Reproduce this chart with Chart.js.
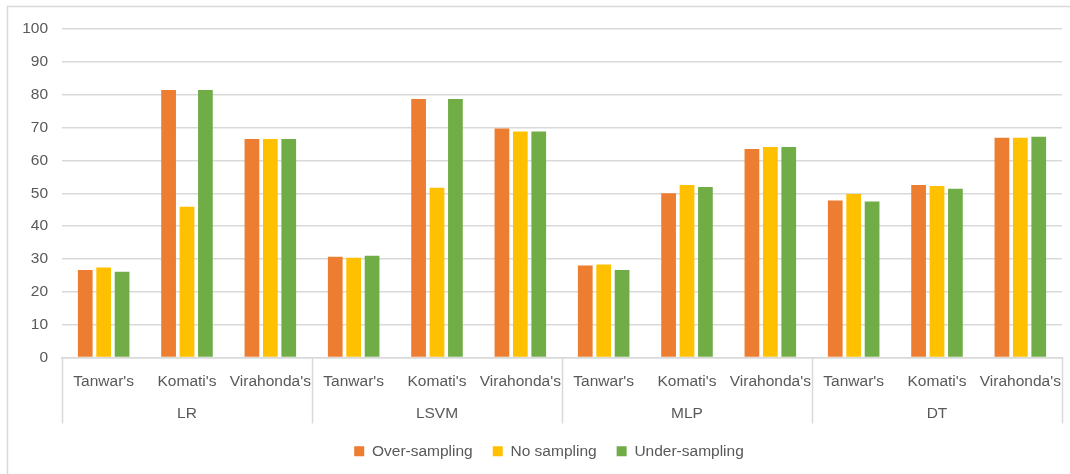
<!DOCTYPE html>
<html>
<head>
<meta charset="utf-8">
<script src="https://cdn.jsdelivr.net/npm/chart.js@4/dist/chart.umd.min.js"></script>
<style>
  html, body { margin: 0; padding: 0; background: #ffffff; }
  #wrap { position: relative; width: 1070px; height: 474px; }
</style>
</head>
<body>
<div id="wrap"><canvas id="chart" width="1070" height="474"></canvas></div>
<script>
// Datasets by feature-extraction method, grouped under each classifier
const methods = ["Tanwar's", "Komati's", "Virahonda's"];
const classifiers = ["LR", "LSVM", "MLP", "DT"];
const categories = classifiers.flatMap(() => methods);

const overSampling  = [26.6, 81.4, 66.5, 30.7, 78.7, 69.7, 28.0, 50.0, 63.5, 47.8, 52.5, 66.9];
const noSampling    = [27.4, 45.9, 66.5, 30.4, 51.7, 68.8, 28.3, 52.5, 64.1, 49.8, 52.2, 66.9];
const underSampling = [26.1, 81.4, 66.5, 31.0, 78.7, 68.8, 26.6, 51.9, 64.1, 47.5, 51.4, 67.2];

const yTicks = [0, 10, 20, 30, 40, 50, 60, 70, 80, 90, 100];

const FONT = "'Liberation Sans', Arial, sans-serif";
const FONT_SIZE = 15.5;
const TEXT = '#595959';
const LINE = '#d9d9d9';

// Frame around the whole chart
const framePlugin = {
  id: 'frame',
  beforeDraw(chart) {
    const ctx = chart.ctx;
    ctx.save();
    ctx.strokeStyle = LINE;
    ctx.lineWidth = 1.5;
    ctx.beginPath();
    ctx.moveTo(7.5, 480);
    ctx.lineTo(7.5, 6.5);
    ctx.lineTo(1080, 6.5);
    ctx.stroke();
    ctx.restore();
  }
};

// Centre the legend on the frame rather than on the canvas
const legendShiftPlugin = {
  id: 'legendShift',
  afterLayout(chart) {
    if (chart.legend) {
      chart.legend.left += 14;
      chart.legend.right += 14;
    }
  }
};

// Second level of the category axis: classifier names with separators
const groupAxisPlugin = {
  id: 'groupAxis',
  afterDraw(chart) {
    const x = chart.scales.x;
    const area = chart.chartArea;
    const ctx = chart.ctx;
    const n = methods.length;
    const step = (area.right - area.left) / categories.length;
    const bottom = area.bottom + 66;
    ctx.save();
    ctx.strokeStyle = LINE;
    ctx.lineWidth = 1.5;
    ctx.beginPath();
    for (let g = 0; g <= classifiers.length; g++) {
      const px = Math.round(area.left + g * n * step) + 0.5;
      ctx.moveTo(px, area.bottom);
      ctx.lineTo(px, bottom);
    }
    ctx.stroke();
    ctx.fillStyle = TEXT;
    ctx.font = FONT_SIZE + 'px ' + FONT;
    ctx.textAlign = 'center';
    ctx.textBaseline = 'middle';
    classifiers.forEach((name, g) => {
      const first = x.getPixelForValue(g * n);
      const last = x.getPixelForValue(g * n + n - 1);
      ctx.fillText(name, (first + last) / 2, area.bottom + 56);
    });
    ctx.restore();
  }
};

new Chart(document.getElementById('chart'), {
  type: 'bar',
  data: {
    labels: categories,
    datasets: [
      { label: 'Over-sampling', data: overSampling, backgroundColor: '#ED7D31' },
      { label: 'No sampling', data: noSampling, backgroundColor: '#FFC000' },
      { label: 'Under-sampling', data: underSampling, backgroundColor: '#70AD47' }
    ]
  },
  options: {
    responsive: false,
    animation: false,
    devicePixelRatio: 1,
    layout: { padding: { top: 29, left: 8, right: 8, bottom: 5 } },
    datasets: { bar: { categoryPercentage: 0.663, barPercentage: 0.8, borderWidth: 0 } },
    scales: {
      x: {
        grid: { display: false, drawTicks: false },
        border: { display: true, color: LINE, width: 1.5 },
        ticks: { color: TEXT, font: { family: FONT, size: FONT_SIZE }, maxRotation: 0, autoSkip: false, padding: 15 },
        afterFit(scale) {
          scale.height = 66;
          scale.paddingLeft = 0;
          scale.paddingRight = 0;
        }
      },
      y: {
        min: 0,
        max: 100,
        afterBuildTicks(scale) { scale.ticks = yTicks.map(v => ({ value: v })); },
        grid: { color: LINE, lineWidth: 1.5, drawTicks: false },
        border: { display: false },
        ticks: { color: TEXT, font: { family: FONT, size: FONT_SIZE }, padding: 14 },
        afterFit(scale) { scale.width = 54; }
      }
    },
    plugins: {
      legend: {
        position: 'bottom',
        labels: {
          color: TEXT,
          font: { family: FONT, size: FONT_SIZE },
          boxWidth: 10,
          boxHeight: 10,
          padding: 20
        }
      },
      tooltip: { enabled: false }
    }
  },
  plugins: [framePlugin, legendShiftPlugin, groupAxisPlugin]
});
</script>
</body>
</html>
